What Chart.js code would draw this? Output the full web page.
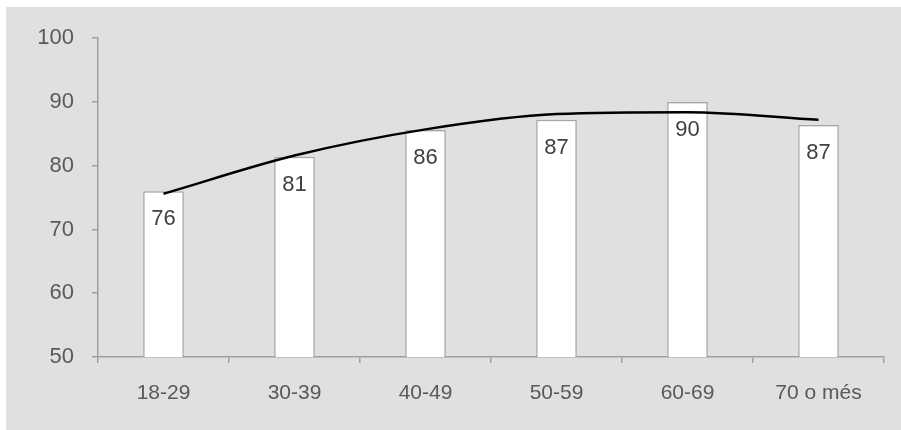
<!DOCTYPE html>
<html>
<head>
<meta charset="utf-8">
<script src="https://cdn.jsdelivr.net/npm/chart.js@4"></script>
<style>
    body { margin: 0; background: #ffffff; }
    #wrap { position: absolute; left: 6px; top: 7px; width: 895px; height: 423px; background: #e0e0e0; }
    #chart { display: block; }
</style>
</head>
<body>
<div id="wrap"><canvas id="chart" width="895" height="423"></canvas></div>
<script>
// Age groups and values
const categories = ['18-29', '30-39', '40-49', '50-59', '60-69', '70 o més'];
const barValues = [76.0, 81.4, 85.6, 87.2, 90.0, 86.4];
const barLabels = ['76', '81', '86', '87', '90', '87'];
const trendValues = [75.6, 81.6, 85.7, 88.1, 88.4, 87.2];
const yTicks = [50, 60, 70, 80, 90, 100];

const axisColor = '#a0a0a0';
const textColor = '#595959';
const fontFamily = '"Liberation Sans", Arial, sans-serif';

// Value labels inside the top of each bar
const barLabelPlugin = {
    id: 'barLabels',
    afterDatasetsDraw(chart) {
        const ctx = chart.ctx;
        const meta = chart.getDatasetMeta(0);
        ctx.save();
        ctx.font = '22px ' + fontFamily;
        ctx.fillStyle = '#404040';
        ctx.textAlign = 'center';
        ctx.textBaseline = 'middle';
        meta.data.forEach((bar, i) => {
            ctx.fillText(barLabels[i], bar.x, bar.y + 28);
        });
        ctx.restore();
    }
};

new Chart(document.getElementById('chart'), {
    type: 'bar',
    data: {
        labels: categories,
        datasets: [{
            type: 'bar',
            data: barValues,
            backgroundColor: '#ffffff',
            borderColor: '#a6a6a6',
            borderWidth: 1.5,
            categoryPercentage: 1,
            barPercentage: 0.31,
            order: 1
        }, {
            type: 'line',
            data: trendValues,
            borderColor: '#000000',
            borderWidth: 2.5,
            pointRadius: 0,
            cubicInterpolationMode: 'monotone',
            fill: false,
            order: 0
        }]
    },
    options: {
        responsive: false,
        maintainAspectRatio: false,
        animation: false,
        devicePixelRatio: 1,
        layout: { padding: { top: 30, right: 17, left: 0, bottom: 0 } },
        plugins: {
            legend: { display: false },
            tooltip: { enabled: false }
        },
        scales: {
            x: {
                grid: { drawOnChartArea: false, color: axisColor, lineWidth: 1.5, tickLength: 6, offset: true },
                border: { color: axisColor, width: 1.5 },
                ticks: {
                    color: textColor,
                    padding: 18,
                    maxRotation: 0,
                    font: { family: fontFamily, size: 21 }
                },
                afterFit(scale) { scale.height = 73; }
            },
            y: {
                min: 50,
                max: 100,
                afterBuildTicks(scale) { scale.ticks = yTicks.map(v => ({ value: v })); },
                grid: { drawOnChartArea: false, color: axisColor, lineWidth: 1.5, tickLength: 6 },
                border: { color: axisColor, width: 1.5 },
                ticks: {
                    color: textColor,
                    padding: 18,
                    font: { family: fontFamily, size: 22 }
                },
                afterFit(scale) { scale.width = 92; }
            }
        }
    },
    plugins: [barLabelPlugin]
});
</script>
</body>
</html>
